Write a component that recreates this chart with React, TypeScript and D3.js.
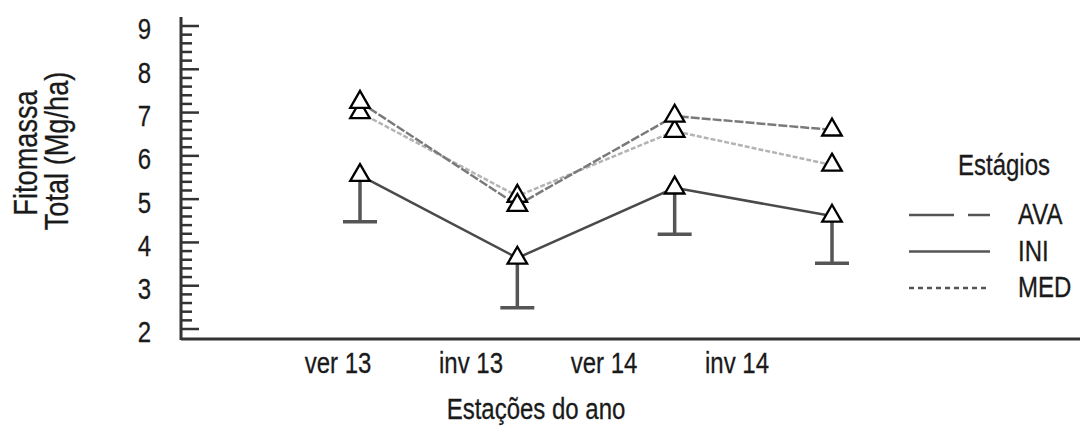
import React from "react";
import * as d3 from "d3";

const categories = ["ver 13", "inv 13", "ver 14", "inv 14"];
const iniValues = [5.55, 3.64, 5.26, 4.61];
const iniLower = [4.48, 2.49, 4.19, 3.52];
const avaValues = [7.24, 4.86, 6.92, 6.6];
const medValues = [7.0, 5.07, 6.57, 5.79];
const yTicks = [2, 3, 4, 5, 6, 7, 8, 9];
const legendLabels = ["AVA", "INI", "MED"];

const W = 1080;
const H = 427;
const FONT = "'Liberation Sans', Arial, sans-serif";
const NARROW = 0.8;

function NText(props: {
  x: number;
  y: number;
  size: number;
  anchor?: "start" | "middle" | "end";
  rotate?: number;
  baseline?: string;
  children: React.ReactNode;
}) {
  const { x, y, size, anchor = "start", rotate = 0, baseline, children } = props;
  return (
    <text
      transform={`translate(${x},${y}) rotate(${rotate}) scale(${NARROW},1)`}
      textAnchor={anchor}
      dominantBaseline={baseline as any}
      fontSize={size}
      fill="#1a1a1a"
      stroke="#1a1a1a"
      strokeWidth={0.3}
    >
      {children}
    </text>
  );
}

export default function App() {
  const y = d3.scaleLinear().domain([2, 9]).range([329, 26]);
  const xPts = d3.scalePoint<string>().domain(categories).range([360, 832]);
  const xLab = d3.scalePoint<string>().domain(categories).range([338, 737]);
  const axisX = 181;
  const axisY = 339;

  const minor = d3
    .range(20, 91, 2)
    .map((v) => v / 10)
    .filter((v) => !yTicks.includes(v));

  const line = d3
    .line<number>()
    .x((_, i) => xPts(categories[i]) as number)
    .y((v) => y(v));

  const tri = d3.symbol().type(d3.symbolTriangle).size(165)();

  const series = [
    { name: "MED", values: medValues, color: "#b4b4b4", width: 2.5, dash: "5,2" },
    { name: "AVA", values: avaValues, color: "#7a7a7a", width: 2.5, dash: "9,2" },
    { name: "INI", values: iniValues, color: "#4a4a4a", width: 2.5, dash: null },
  ];

  const legendY = d3.scalePoint<string>().domain(legendLabels).range([215, 288]);
  const legendStyle: Record<string, { dash: string | null; color: string }> = {
    AVA: { dash: "45,14", color: "#555" },
    INI: { dash: null, color: "#555" },
    MED: { dash: "5,4", color: "#555" },
  };

  return (
    <svg
      width={W}
      height={H}
      style={{ position: "absolute", left: 0, top: 0, background: "#fff" }}
      fontFamily={FONT}
    >
      {/* Axes */}
      <line x1={axisX} x2={axisX} y1={17} y2={axisY + 1} stroke="#333" strokeWidth={3} />
      <line x1={axisX} x2={W} y1={axisY} y2={axisY} stroke="#333" strokeWidth={3} />
      {yTicks.map((t) => (
        <g key={"t" + t}>
          <line x1={axisX} x2={axisX + 18} y1={y(t)} y2={y(t)} stroke="#333" strokeWidth={2.5} />
          <NText x={151} y={y(t) + 3} size={30} anchor="end" baseline="central">
            {t}
          </NText>
        </g>
      ))}
      {minor.map((t) => (
        <line key={"m" + t} x1={axisX} x2={axisX + 11} y1={y(t)} y2={y(t)} stroke="#333" strokeWidth={2.5} />
      ))}

      {/* Y label */}
      <NText x={37} y={153} size={34} anchor="middle" rotate={-90}>
        Fitomassa
      </NText>
      <NText x={68} y={151} size={34} anchor="middle" rotate={-90}>
        Total (Mg/ha)
      </NText>

      {/* X labels */}
      {categories.map((c) => (
        <NText key={c} x={xLab(c) as number} y={373} size={30} anchor="middle">
          {c}
        </NText>
      ))}
      <NText x={536} y={419} size={30} anchor="middle">
        Estações do ano
      </NText>

      {/* Lines */}
      {series.map((s) => (
        <path
          key={s.name}
          d={line(s.values) as string}
          fill="none"
          stroke={s.color}
          strokeWidth={s.width}
          strokeDasharray={s.dash ?? undefined}
        />
      ))}

      {/* Error bars (INI lower) */}
      {categories.map((c, i) => {
        const x = xPts(c) as number;
        return (
          <g key={"e" + c} stroke="#555" strokeWidth={3.5}>
            <line x1={x} x2={x} y1={y(iniValues[i])} y2={y(iniLower[i])} />
            <line x1={x - 17} x2={x + 17} y1={y(iniLower[i])} y2={y(iniLower[i])} />
          </g>
        );
      })}

      {/* Markers */}
      {series.map((s) =>
        s.values.map((v, i) => (
          <path
            key={s.name + i}
            d={tri as string}
            transform={`translate(${xPts(categories[i])},${y(v)})`}
            fill="#fff"
            stroke="#000"
            strokeWidth={2.3}
          />
        ))
      )}

      {/* Legend */}
      <NText x={1004} y={175} size={30} anchor="middle">
        Estágios
      </NText>
      {legendLabels.map((l) => {
        const ly = legendY(l) as number;
        const st = legendStyle[l];
        return (
          <g key={"l" + l}>
            <line
              x1={909}
              x2={990}
              y1={ly}
              y2={ly}
              stroke={st.color}
              strokeWidth={2.5}
              strokeDasharray={st.dash ?? undefined}
            />
            <NText x={1018} y={ly + 9} size={30}>
              {l}
            </NText>
          </g>
        );
      })}
    </svg>
  );
}
